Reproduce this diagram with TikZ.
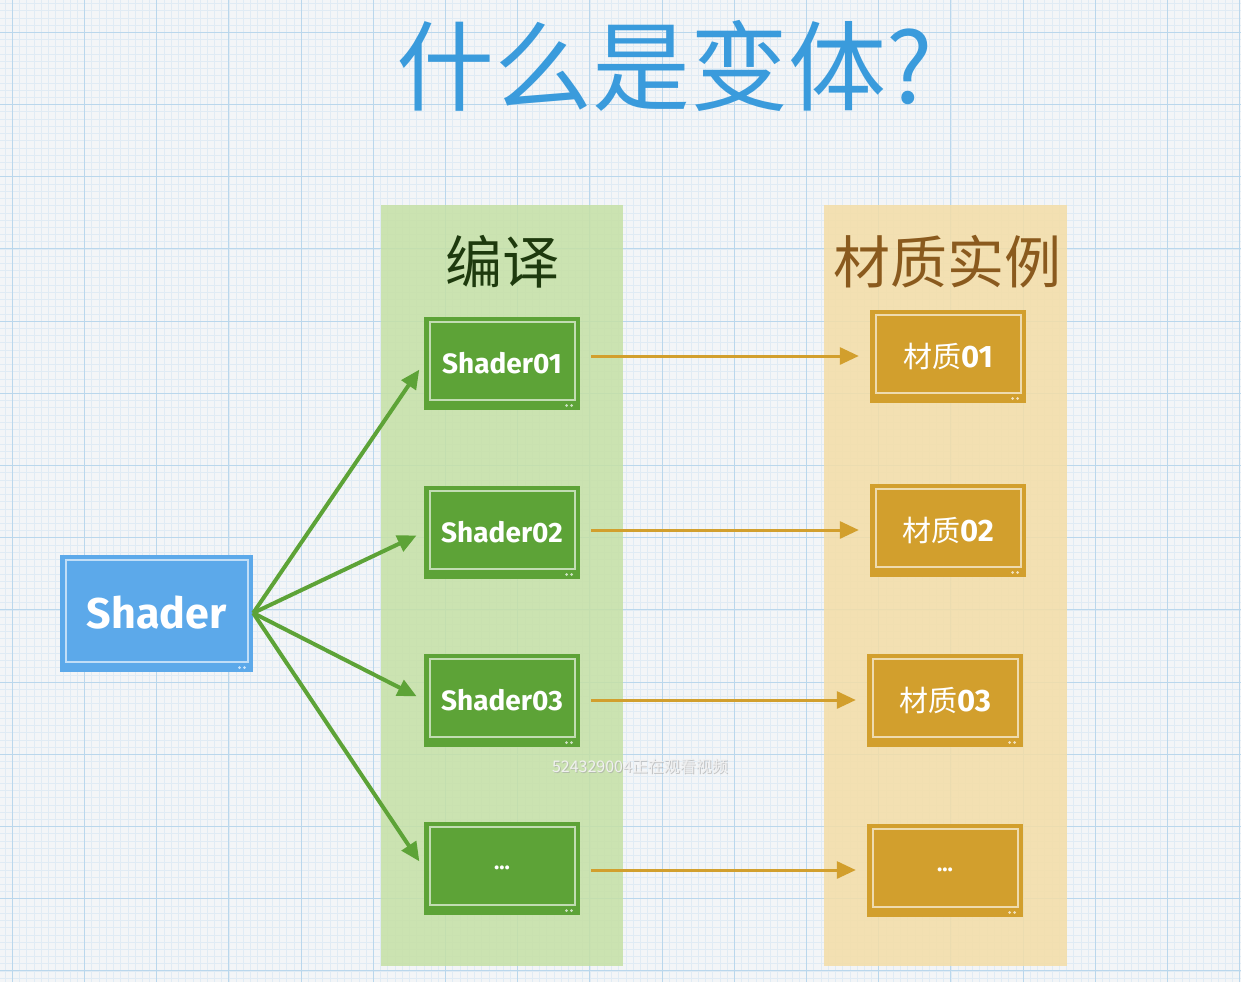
\documentclass[tikz,border=0pt]{standalone}
\usepackage{fontspec}
\newfontfamily\cjk{Noto Sans CJK SC}
\newfontfamily\lab{Fira Sans}
\usetikzlibrary{arrows.meta,calc}
\definecolor{bg}{HTML}{F3F5F7}
\definecolor{minorc}{HTML}{E0EBF4}
\definecolor{majorc}{HTML}{BAD7EC}
\definecolor{colgreen}{HTML}{C5E0A5}
\definecolor{colorange}{HTML}{F4DDA6}
\definecolor{boxgreen}{HTML}{5DA337}
\definecolor{boxorange}{HTML}{D29F2D}
\definecolor{boxblue}{HTML}{5CA9EA}
\definecolor{titleblue}{HTML}{3A9BDC}
\definecolor{hdrgreen}{HTML}{1E3A0E}
\definecolor{hdrbrown}{HTML}{8A5A1E}
\tikzset{
  box/.style={inner sep=0pt, text=white,
    path picture={
      \draw[line width=2pt, white!62!#1]
        ([shift={(5.5pt,9.5pt)}]path picture bounding box.south west) rectangle
        ([shift={(-5.5pt,-5.5pt)}]path picture bounding box.north east);
      \fill[white!70!#1]
        ([shift={(-13.5pt,4pt)}]path picture bounding box.south east) circle (1.5pt)
        ([shift={(-8.5pt,4pt)}]path picture bounding box.south east) circle (1.5pt);
    }},
  gbox/.style={box=boxgreen, fill=boxgreen, minimum width=156pt, minimum height=93pt,
    font=\lab\bfseries\fontsize{28}{28}\selectfont},
  obox/.style={box=boxorange, fill=boxorange, minimum width=156pt, minimum height=93pt},
  garrow/.style={draw=boxgreen, line width=4pt, -{Triangle[length=19pt,width=17pt]}, shorten >=8pt},
  oarrow/.style={draw=boxorange, line width=3pt, -{Triangle[length=19pt,width=17pt]}, shorten >=11pt, shorten <=11pt},
  hdr/.style={font=\cjk\fontsize{57}{57}\selectfont},
}
\newcommand{\ocj}[1]{{\cjk\fontsize{29}{29}\selectfont 材质}{\lab\bfseries\fontsize{31}{31}\selectfont #1}}
\begin{document}
\begin{tikzpicture}[x=1pt,y=-1pt]
\useasboundingbox (0,0) rectangle (1241,982);
\fill[bg] (0,0) rectangle (1241,982);
% grid
\foreach \k in {-2,...,172} {
  \pgfmathsetmacro\xx{12.3+\k*7.22}
  \draw[minorc, line width=0.6pt] (\xx,0) -- (\xx,982);
}
\foreach \k in {-5,...,137} {
  \pgfmathsetmacro\yy{32.3+\k*7.22}
  \draw[minorc, line width=0.6pt] (0,\yy) -- (1241,\yy);
}
\foreach \k in {0,...,17} {
  \pgfmathsetmacro\xx{12.3+\k*72.2}
  \draw[majorc, line width=1.1pt] (\xx,0) -- (\xx,982);
}
\foreach \k in {0,...,13} {
  \pgfmathsetmacro\yy{32.3+\k*72.2}
  \draw[majorc, line width=1.1pt] (0,\yy) -- (1241,\yy);
}
% columns
\fill[colgreen, opacity=0.85] (381,205) rectangle (623,966);
\fill[colorange, opacity=0.85] (824,205) rectangle (1067,966);
% title and headers
\node[text=titleblue, font=\cjk\fontsize{98}{98}\selectfont] (title) at (665,66) {什么是变体?};
\node[hdr, text=hdrgreen] (h1) at (502,262) {编译};
\node[hdr, text=hdrbrown] (h2) at (947,262) {材质实例};
% shader
\node[box=boxblue, fill=boxblue, minimum width=193pt, minimum height=117pt,
  font=\lab\bfseries\fontsize{43}{43}\selectfont] (sh) at (156.5,613) {Shader};
% green boxes
\node[gbox] (g1) at (502,363) {Shader01};
\node[gbox] (g2) at (502,532) {Shader02};
\node[gbox] (g3) at (502,700) {Shader03};
\node[gbox] (g4) at (502,868) {\fontsize{22}{22}\selectfont ...};
% orange boxes
\node[obox] (o1) at (948,356) {\ocj{01}};
\node[obox] (o2) at (948,530) {\ocj{02}};
\node[obox] (o3) at (945,700) {\ocj{03}};
\node[obox, font=\lab\bfseries\fontsize{22}{22}\selectfont] (o4) at (945,870) {...};
% arrows
\draw[garrow] (sh.east) -- (g1.west);
\draw[garrow] (sh.east) -- (g2.west);
\draw[garrow] (sh.east) -- (g3.west);
\draw[garrow] (sh.east) -- (g4.west);
\draw[oarrow] (g1.east |- o1.west) -- (o1.west);
\draw[oarrow] (g2.east |- o2.west) -- (o2.west);
\draw[oarrow] (g3.east |- o3.west) -- (o3.west);
\draw[oarrow] (g4.east |- o4.west) -- (o4.west);
% watermark
\node[text=black!35, opacity=0.6, font=\cjk\fontsize{16}{16}\selectfont] at (641,767) {524329004正在观看视频};
\node[text=white!94!black, font=\cjk\fontsize{16}{16}\selectfont] (wm) at (640,766) {524329004正在观看视频};
\end{tikzpicture}
\end{document}
